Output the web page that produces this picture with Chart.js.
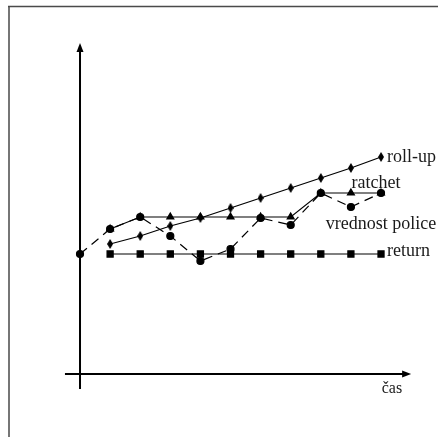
<!DOCTYPE html>
<html><head><meta charset="utf-8">
<script src="https://cdn.jsdelivr.net/npm/chart.js@4"></script>
<style>html,body{margin:0;padding:0;background:#fff}#wrap{width:438px;height:437px;position:relative}</style>
</head><body><div id="wrap"><canvas id="c" width="438" height="437"></canvas></div>
<script>
// ---- data ----
const periods = [0, 1, 2, 3, 4, 5, 6, 7, 8, 9, 10];
const rollUp = [null, 13.0, 13.8, 14.8, 15.6, 16.6, 17.6, 18.6, 19.6, 20.6, 21.7];
const ratchet = [null, 14.5, 15.7, 15.7, 15.7, 15.7, 15.7, 15.7, 18.1, 18.1, 18.1];
const policyValue = [12.0, 14.5, 15.7, 13.8, 11.3, 12.5, 15.6, 14.9, 18.1, 16.7, 18.1];
const returnValue = [null, 12, 12, 12, 12, 12, 12, 12, 12, 12, 12];
const seriesLabels = ['roll-up', 'ratchet', 'vrednost police', 'return'];
const xAxisLabel = 'čas';

function pts(arr){ return periods.map((p,i)=>({x:p,y:arr[i]})).filter(d=>d.y!==null); }

function diamond(w,h){
  const c=document.createElement('canvas'); c.width=w; c.height=h;
  const g=c.getContext('2d'); g.fillStyle='#000';
  g.beginPath(); g.moveTo(w/2,0); g.lineTo(w,h/2); g.lineTo(w/2,h); g.lineTo(0,h/2); g.closePath(); g.fill();
  return c;
}
const dia = diamond(6,10);

const font = '"Liberation Serif", "Times New Roman", serif';
const labelOffsets = [
  {align:'left', dx:6, dy:5},
  {align:'center', dx:-5, dy:-5},
  {align:'center', dx:0, dy:35.5},
  {align:'left', dx:6, dy:2}
];

const decor = {
  id:'decor',
  beforeDatasetsDraw(chart){
    const ctx=chart.ctx, xs=chart.scales.x, ys=chart.scales.y;
    ctx.save();
    // frame (top and left)
    ctx.strokeStyle='#4a4a4a'; ctx.lineWidth=1.5;
    ctx.beginPath(); ctx.moveTo(8,6.5); ctx.lineTo(438,6.5); ctx.moveTo(9,6); ctx.lineTo(9,437); ctx.stroke();
    // axes
    const x0=xs.getPixelForValue(0), y0=ys.getPixelForValue(0);
    const yTop=ys.getPixelForValue(33.1), yBot=ys.getPixelForValue(-1.5);
    const xL=xs.getPixelForValue(-0.5), xR=xs.getPixelForValue(11.0);
    ctx.strokeStyle='#000'; ctx.fillStyle='#000'; ctx.lineWidth=2;
    ctx.beginPath(); ctx.moveTo(x0,yBot); ctx.lineTo(x0,yTop+6); ctx.stroke();
    ctx.beginPath(); ctx.moveTo(xL,y0); ctx.lineTo(xR-6,y0); ctx.stroke();
    ctx.beginPath(); ctx.moveTo(x0,yTop); ctx.lineTo(x0+3.5,yTop+9); ctx.lineTo(x0-3.5,yTop+9); ctx.closePath(); ctx.fill();
    ctx.beginPath(); ctx.moveTo(xR,y0); ctx.lineTo(xR-9,y0-3.5); ctx.lineTo(xR-9,y0+3.5); ctx.closePath(); ctx.fill();
    ctx.restore();
  },
  afterDatasetsDraw(chart){
    const ctx=chart.ctx, xs=chart.scales.x, ys=chart.scales.y;
    ctx.save();
    ctx.fillStyle='#1a1a1a'; ctx.textBaseline='alphabetic';
    ctx.font='18px '+font;
    chart.data.datasets.forEach((ds,i)=>{
      const last=ds.data[ds.data.length-1];
      const o=labelOffsets[i];
      ctx.textAlign=o.align;
      ctx.fillText(seriesLabels[i], xs.getPixelForValue(last.x)+o.dx, ys.getPixelForValue(last.y)+o.dy);
    });
    ctx.font='16px '+font; ctx.textAlign='right';
    ctx.fillText(xAxisLabel, xs.getPixelForValue(11.0)-9, ys.getPixelForValue(0)+19);
    ctx.restore();
  }
};

new Chart(document.getElementById('c'), {
  type:'line',
  data:{datasets:[
    {label:seriesLabels[0], data:pts(rollUp), borderColor:'#000', borderWidth:1.2, pointStyle:dia, pointRadius:5, order:3},
    {label:seriesLabels[1], data:pts(ratchet), borderColor:'#000', borderWidth:1.2, pointStyle:'triangle', pointRadius:4, pointBackgroundColor:'#000', pointBorderColor:'#000', order:2},
    {label:seriesLabels[2], data:pts(policyValue), borderColor:'#000', borderWidth:1.2, borderDash:[9,6], pointStyle:'circle', pointRadius:3.5, pointBackgroundColor:'#000', pointBorderColor:'#000', order:1},
    {label:seriesLabels[3], data:pts(returnValue), borderColor:'#000', borderWidth:1.2, pointStyle:'rect', pointRadius:4.3, pointBackgroundColor:'#000', pointBorderColor:'#000', order:4}
  ]},
  options:{
    responsive:false, animation:false, devicePixelRatio:1,
    layout:{padding:0, autoPadding:false},
    elements:{line:{tension:0, fill:false}, point:{borderWidth:0, hoverRadius:4}},
    plugins:{legend:{display:false}, tooltip:{enabled:false}},
    scales:{
      x:{type:'linear', min:-2.658, max:11.893, display:false},
      y:{type:'linear', min:-6.3, max:37.4, display:false}
    }
  },
  plugins:[decor]
});
</script></body></html>
